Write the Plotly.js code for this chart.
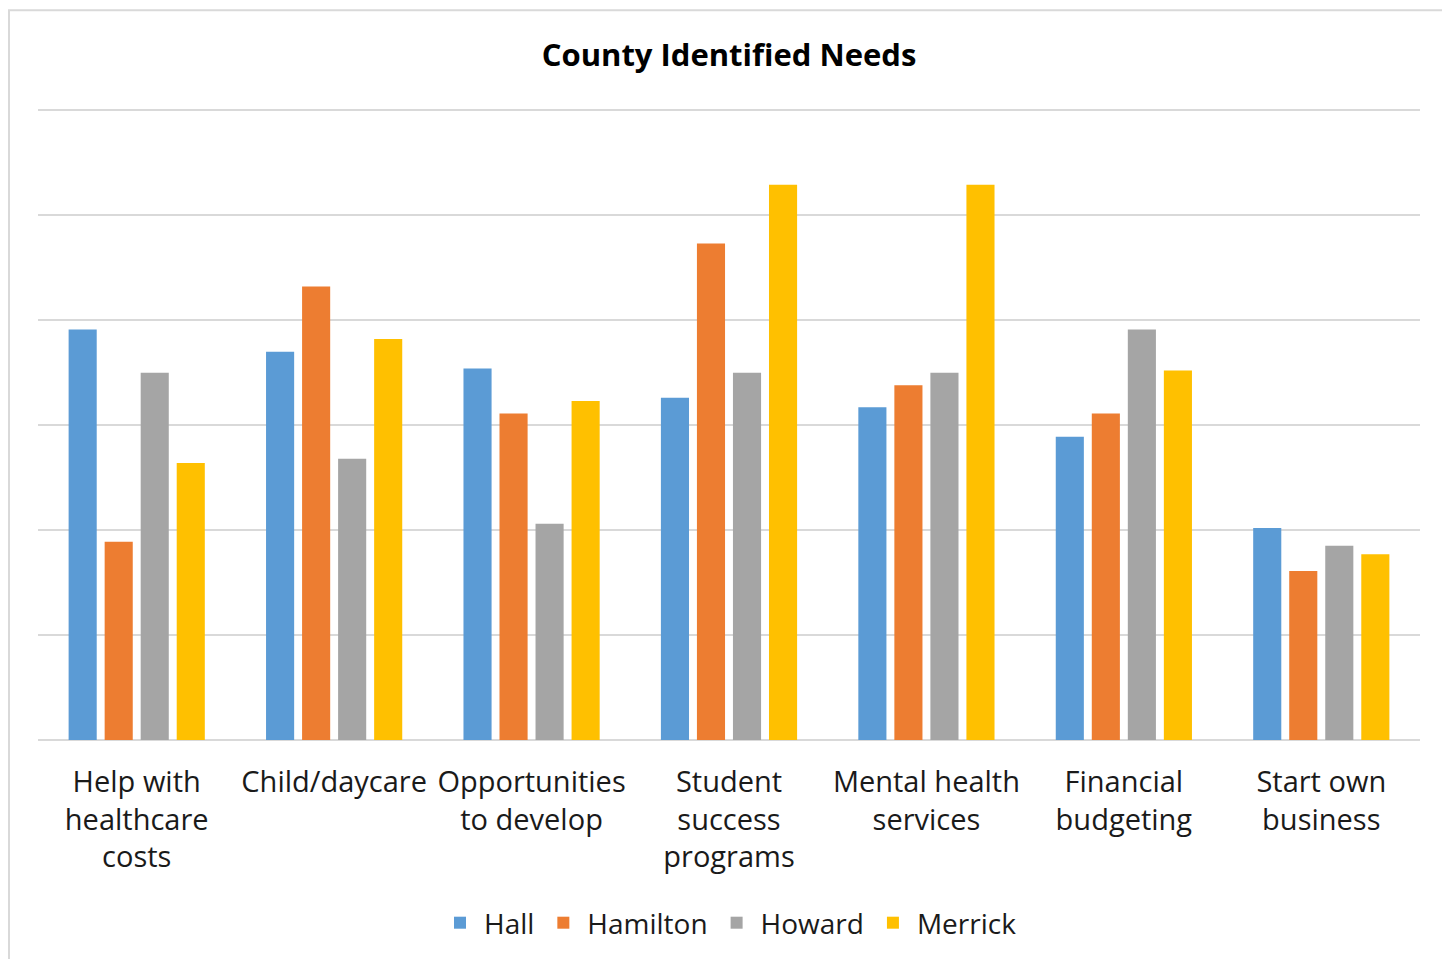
<!DOCTYPE html>
<html>
<head>
<meta charset="utf-8">
<script src="https://cdn.plot.ly/plotly-3.0.1.min.js"></script>
<style>html,body{margin:0;padding:0;background:#fff;}#chart{width:1442px;height:959px;}</style>
</head>
<body>
<div id="chart"></div>
<script>
const categories = ["Help with<br>healthcare<br>costs", "Child/daycare", "Opportunities<br>to develop", "Student<br>success<br>programs", "Mental health<br>services", "Financial<br>budgeting", "Start own<br>business"];
const hall     = [3.91, 3.70, 3.54, 3.26, 3.17, 2.89, 2.02];
const hamilton = [1.89, 4.32, 3.11, 4.73, 3.38, 3.11, 1.61];
const howard   = [3.50, 2.68, 2.06, 3.50, 3.50, 3.91, 1.85];
const merrick  = [2.64, 3.82, 3.23, 5.29, 5.29, 3.52, 1.77];
const seriesNames = ["Hall", "Hamilton", "Howard", "Merrick"];
const seriesColors = ["#5B9BD5", "#ED7D31", "#A5A5A5", "#FFC000"];
const seriesValues = [hall, hamilton, howard, merrick];

const traces = seriesValues.map((vals, i) => ({
  type: 'bar', name: seriesNames[i], x: categories, y: vals,
  marker: {color: seriesColors[i]}, hoverinfo: 'skip'
}));

const layout = {
  width: 1442, height: 959,
  margin: {l: 38, r: 22, t: 109, b: 218},
  paper_bgcolor: '#ffffff', plot_bgcolor: '#ffffff',
  font: {family: 'Open Sans, sans-serif', color: '#1a1a1a'},
  title: {text: '<b>County Identified Needs</b>', font: {family: 'Open Sans, sans-serif', size: 31, color: '#000000'},
          x: 0.5, xref: 'paper', y: 1 - 55/959, yref: 'container', yanchor: 'middle'},
  barmode: 'group', bargap: 0.27, bargroupgap: 0.22,
  xaxis: {showgrid: false, showline: false, ticks: '', tickfont: {size: 29, color: '#1a1a1a'}, ticklabelstandoff: 22, fixedrange: true},
  yaxis: {range: [0, 6.012], tickvals: [0, 1, 2, 3, 4, 5, 6], showticklabels: false, showgrid: true, gridcolor: '#d9d9d9', gridwidth: 2,
          zeroline: true, zerolinecolor: '#d9d9d9', zerolinewidth: 2, showline: false, ticks: '', fixedrange: true},
  showlegend: true,
  legend: {orientation: 'h', x: 0.5, xanchor: 'center', y: (741-923)/632, yanchor: 'middle',
           font: {size: 28, color: '#1a1a1a'}, itemwidth: 38, traceorder: 'normal'},
  shapes: [{type: 'rect', xref: 'paper', yref: 'paper', x0: (9-38)/1382, x1: (1460-38)/1382, y0: (741-980)/632, y1: (741-10)/632,
            line: {color: '#d9d9d9', width: 2}, fillcolor: 'rgba(0,0,0,0)', layer: 'below'}]
};

Plotly.newPlot('chart', traces, layout, {displayModeBar: false, staticPlot: true});
</script>
</body>
</html>
